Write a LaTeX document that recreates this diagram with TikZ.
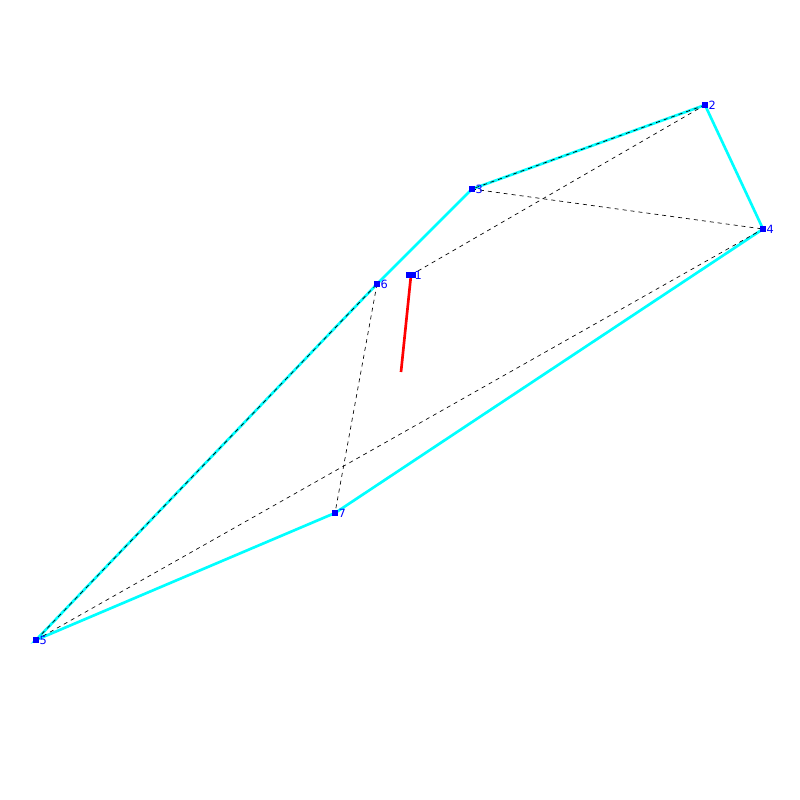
\documentclass[tikz,border=0pt]{standalone}
\usepackage{fontspec}
\setmainfont{DejaVu Sans}
\definecolor{hullcyan}{RGB}{0,255,255}
\definecolor{ptblue}{RGB}{0,0,255}
\definecolor{segred}{RGB}{255,0,0}
\begin{document}
\begin{tikzpicture}[x=0.75pt,y=-0.75pt,
  pt/.style={fill=ptblue,inner sep=0pt,minimum size=5pt},
  lbl/.style={text=ptblue,font=\fontsize{8.5}{8.5}\selectfont,inner sep=0pt,anchor=west,xshift=2.5pt},
  hull/.style={hullcyan,line width=2pt},
  dline/.style={black,line width=0.5pt,dash pattern=on 3pt off 3pt}]
\useasboundingbox (0,0) rectangle (800,800);
\coordinate (p1) at (411,275);
\coordinate (p2) at (705,105);
\coordinate (p3) at (472,189);
\coordinate (p4) at (763,229);
\coordinate (p5) at (36,640);
\coordinate (p6) at (377,284);
\coordinate (p7) at (335,513);
\coordinate (r) at (401,372);
\draw[hull] (p5) -- (p6) -- (p3) -- (p2) -- (p4) -- (p7) -- cycle;
\draw[dline] (p1) -- (p2);
\draw[dline] (p2) -- (p3);
\draw[dline] (p3) -- (p4);
\draw[dline] (p5) -- (p6);
\draw[dline] (p6) -- (p7);
\draw[dline] (p5) -- (p4);
\draw[segred,line width=2pt] (p1) -- (r);
\node[pt,minimum width=7pt] (n1) at (p1) {};
\node[pt] (n2) at (p2) {};
\node[pt] (n3) at (p3) {};
\node[pt] (n4) at (p4) {};
\node[pt] (n5) at (p5) {};
\node[pt] (n6) at (p6) {};
\node[pt] (n7) at (p7) {};
\node[lbl] (l1) at (p1) {1};
\node[lbl] (l2) at (p2) {2};
\node[lbl] (l3) at (p3) {3};
\node[lbl] (l4) at (p4) {4};
\node[lbl] (l5) at (p5) {5};
\node[lbl] (l6) at (p6) {6};
\node[lbl] (l7) at (p7) {7};
\end{tikzpicture}
\end{document}
